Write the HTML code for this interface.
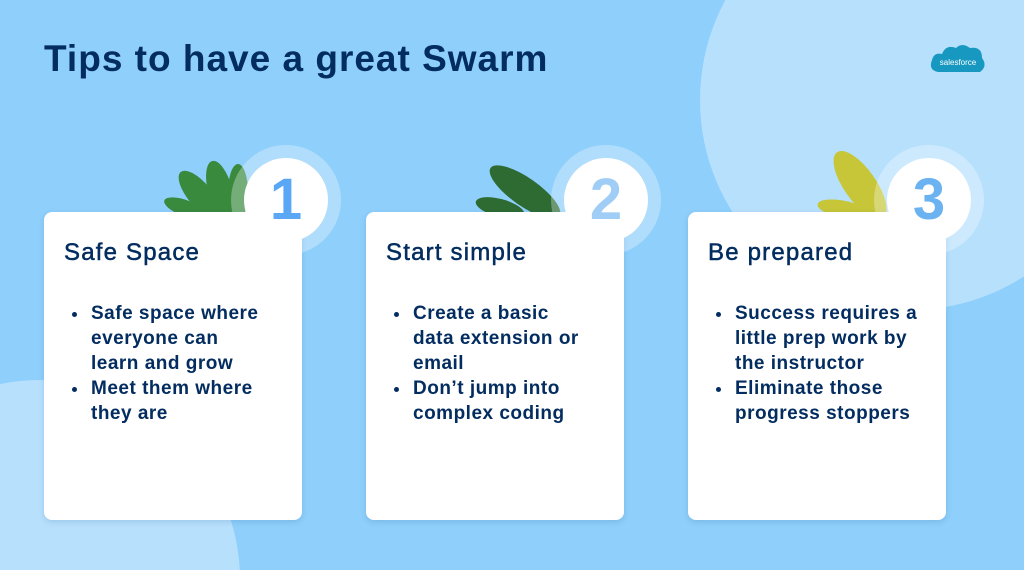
<!DOCTYPE html>
<html style="width:1024px;height:570px;overflow:hidden"><head><style>
body{margin:0;width:1024px;height:570px;overflow:hidden;background:#8fcffb;font-family:"Liberation Sans",sans-serif;position:relative}
.wrap{position:absolute;left:0;top:0;width:1024px;height:570px;overflow:hidden}
.c{position:absolute;border-radius:50%}
.card{position:absolute;top:212px;width:258px;height:308px;background:#fff;border-radius:8px;box-shadow:0 2px 6px rgba(0,60,120,.15)}
.card h2{margin:0;position:absolute;left:20px;top:27px;font-size:24px;letter-spacing:1.2px;font-weight:normal;color:#032d60;-webkit-text-stroke:.5px #032d60}
.card ul{position:absolute;left:20px;top:89px;margin:0;padding:0 0 0 25px;font-size:19px;letter-spacing:.5px;line-height:25px;color:#032d60;font-weight:bold;white-space:nowrap}
.card li{padding-left:2px}
.halo{position:absolute;width:110px;height:110px;border-radius:50%;background:rgba(255,255,255,.3)}
.num{position:absolute;width:84px;height:84px;border-radius:50%;background:#fff;text-align:center;line-height:84px;font-size:58px;font-weight:bold;color:#5aa8f5}
</style></head><body><div class="wrap">
<div class="c" style="left:700px;top:-110px;width:420px;height:420px;background:#b7e0fc"></div>
<div class="c" style="left:-160px;top:380px;width:400px;height:400px;background:#b7e0fc"></div>
<div style="position:absolute;left:44px;top:38px;font-size:37px;letter-spacing:1px;font-weight:bold;color:#032d60">Tips to have a great Swarm</div>
<svg style="position:absolute;left:928px;top:42px" width="60" height="38"><path d="M10 30 Q0 28 4 18 Q6 10 14 12 Q18 2 28 6 Q34 0 42 6 Q54 4 54 16 Q60 24 52 30 Z" fill="#1798c1"/><text x="30" y="23" font-size="8" fill="#fff" text-anchor="middle" font-family="Liberation Sans">salesforce</text></svg>
<svg style="position:absolute;left:160px;top:150px" width="800" height="70">
<g fill="#3a8a3e"><ellipse cx="40" cy="45" rx="12" ry="30" transform="rotate(-40 40 45)"/><ellipse cx="60" cy="40" rx="12" ry="30" transform="rotate(-15 60 40)"/><ellipse cx="78" cy="42" rx="10" ry="28"/><ellipse cx="25" cy="58" rx="8" ry="22" transform="rotate(-70 25 58)"/></g>
<g fill="#2e6b33"><ellipse cx="365" cy="42" rx="14" ry="42" transform="rotate(-55 365 42)"/><ellipse cx="340" cy="58" rx="9" ry="25" transform="rotate(-75 340 58)"/></g>
<g fill="#c6c638"><ellipse cx="700" cy="35" rx="16" ry="40" transform="rotate(-35 700 35)"/><ellipse cx="685" cy="60" rx="9" ry="28" transform="rotate(-78 685 60)"/></g>
</svg>
<div class="card" style="left:44px"><h2>Safe Space</h2><ul><li>Safe space where<br>everyone can<br>learn and grow</li><li>Meet them where<br>they are</li></ul></div>
<div class="card" style="left:366px"><h2>Start simple</h2><ul><li>Create a basic<br>data extension or<br>email</li><li>Don’t jump into<br>complex coding</li></ul></div>
<div class="card" style="left:688px"><h2>Be prepared</h2><ul><li>Success requires a<br>little prep work by<br>the instructor</li><li>Eliminate those<br>progress stoppers</li></ul></div>
<div class="halo" style="left:231px;top:145px"></div><div class="num" style="left:244px;top:158px">1</div>
<div class="halo" style="left:551px;top:145px"></div><div class="num" style="left:564px;top:158px;color:#9fcdf5">2</div>
<div class="halo" style="left:874px;top:145px"></div><div class="num" style="left:887px;top:158px;color:#6ab2f0">3</div>
</div></body></html>
